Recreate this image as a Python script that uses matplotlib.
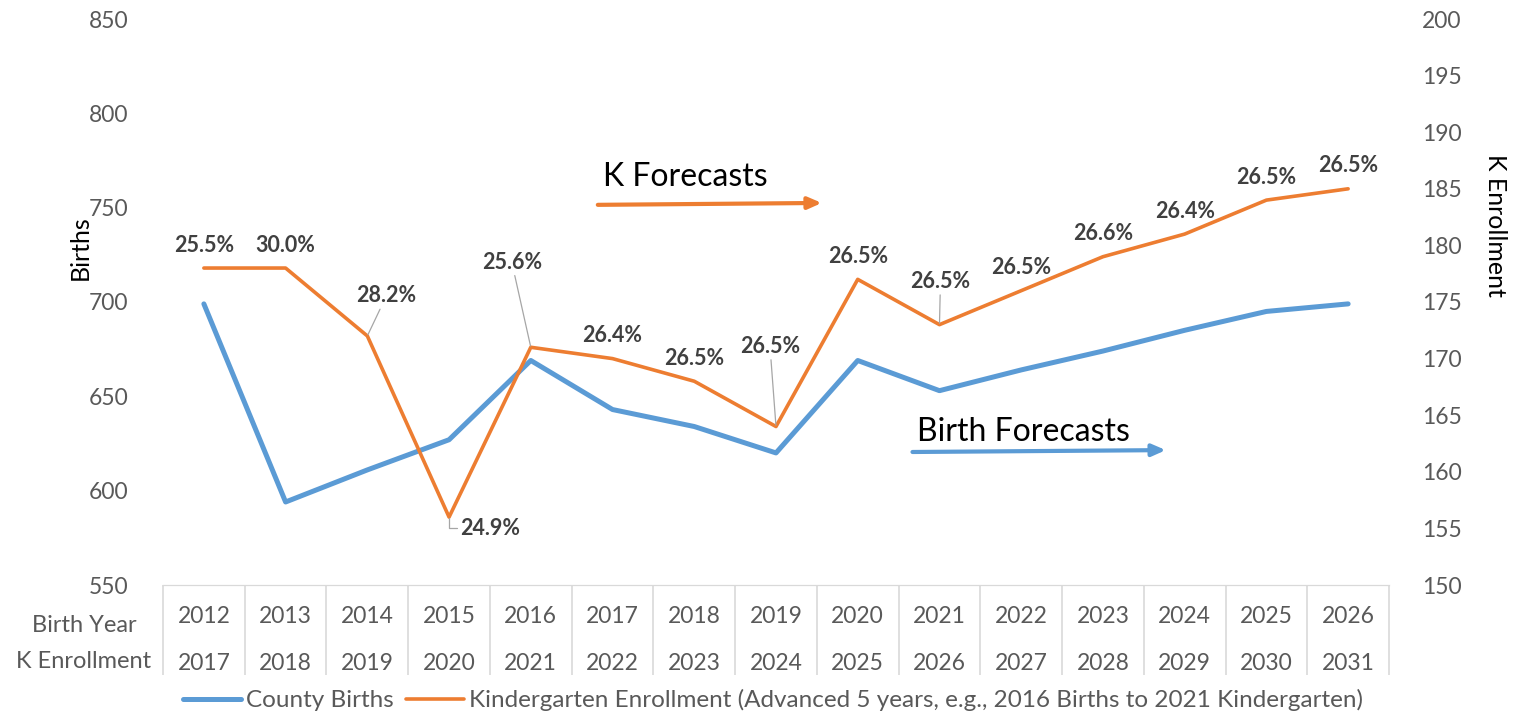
import matplotlib

matplotlib.use("Agg")

import matplotlib.pyplot as plt
from matplotlib.transforms import blended_transform_factory

BIRTH_YEARS = [2012, 2013, 2014, 2015, 2016, 2017, 2018, 2019, 2020,
               2021, 2022, 2023, 2024, 2025, 2026]
K_YEARS = [2017, 2018, 2019, 2020, 2021, 2022, 2023, 2024, 2025,
           2026, 2027, 2028, 2029, 2030, 2031]
BIRTHS = [699, 594, 611, 627, 669, 643, 634, 620, 669, 653, 664, 674, 685, 695, 699]
K_ENROLLMENT = [178, 178, 172, 156, 171, 170, 168, 164, 177, 173, 176, 179, 181, 184, 185]
RATIO_LABELS = ["25.5%", "30.0%", "28.2%", "24.9%", "25.6%", "26.4%", "26.5%", "26.5%",
                "26.5%", "26.5%", "26.5%", "26.6%", "26.4%", "26.5%", "26.5%"]

BLUE = "#5B9BD5"
ORANGE = "#ED7D31"
TICK_GREY = "#595959"
LABEL_GREY = "#404040"
GRID_GREY = "#D9D9D9"

# label offsets in pixels (dx, dy up) from the orange point
LABEL_OFFSETS = {2: (19, 40), 3: (41, -11), 4: (-19, 85), 7: (-6, 80), 9: (1, 43)}
LEADERS = {2, 3, 4, 7, 9}

plt.rcParams["font.family"] = ["Lato", "DejaVu Sans"]

fig = plt.figure(figsize=(15.16, 7.16), dpi=100)
ax = fig.add_axes([163 / 1516, 1 - 585 / 716, (1389 - 163) / 1516, (585 - 19) / 716])
ax2 = ax.twinx()

x = list(range(len(BIRTH_YEARS)))
l1, = ax.plot(x, BIRTHS, color=BLUE, lw=3.6, solid_capstyle="round", solid_joinstyle="round",
              label="County Births")
l2, = ax2.plot(x, K_ENROLLMENT, color=ORANGE, lw=2.6, solid_capstyle="round",
               solid_joinstyle="round",
               label="Kindergarten Enrollment (Advanced 5 years, e.g., 2016 Births to 2021 Kindergarten)")

ax.set_xlim(-0.5, len(x) - 0.5)
ax.set_ylim(550, 850)
ax2.set_ylim(150, 200)
ax.set_yticks(range(550, 851, 50))
ax2.set_yticks(range(150, 201, 5))
ax.set_xticks([])

for a in (ax, ax2):
    for side in ("left", "right", "top"):
        a.spines[side].set_visible(False)
    a.spines["bottom"].set_color(GRID_GREY)
    a.tick_params(axis="y", length=0, labelsize=16.5, labelcolor=TICK_GREY)
ax.tick_params(axis="y", pad=25)
ax2.tick_params(axis="y", pad=24)

ax.set_ylabel("Births", fontsize=18, va="center")
ax.yaxis.set_label_coords(-83 / 1226, (585 - 248) / 566)
ax2.set_ylabel("K Enrollment", fontsize=18, rotation=270, va="center")
ax2.yaxis.set_label_coords(1 + (1495 - 1389) / 1226, (585 - 225) / 566)

# category table under the plot
trans = blended_transform_factory(ax.transData, ax.transAxes)
ax.vlines([i - 0.5 for i in range(len(x) + 1)], -0.159, 0, transform=trans,
          colors=GRID_GREY, lw=1.2, clip_on=False)
for i in x:
    ax.text(i, -0.0565, str(BIRTH_YEARS[i]), transform=trans, ha="center", va="center",
            fontsize=16.5, color=TICK_GREY)
    ax.text(i, -0.138, str(K_YEARS[i]), transform=trans, ha="center", va="center",
            fontsize=16.5, color=TICK_GREY)
fig.text(84 / 1516, 1 - 625 / 716, "Birth Year", ha="center", va="center", fontsize=17,
         color=TICK_GREY)
fig.text(84 / 1516, 1 - 662 / 716, "K Enrollment", ha="center", va="center", fontsize=17,
         color=TICK_GREY)

# ratio labels
for i, (val, lab) in enumerate(zip(K_ENROLLMENT, RATIO_LABELS)):
    dx, dy = LABEL_OFFSETS.get(i, (0, 23))
    kw = {}
    if i in LEADERS:
        style = "angle,angleA=0,angleB=90,rad=0" if i == 3 else "arc3"
        kw["arrowprops"] = dict(arrowstyle="-", color="#A6A6A6", lw=0.9,
                                shrinkA=0, shrinkB=1, connectionstyle=style)
    ax2.annotate(lab, (i, val), xytext=(dx * 0.72, dy * 0.72), textcoords="offset points",
                 ha="center", va="center", fontsize=15.5, fontweight="bold",
                 color=LABEL_GREY, **kw)

# forecast arrows
ax.text(4.88, 766, "K Forecasts", fontsize=23, va="center", ha="left")
ax.annotate("", xy=(7.56, 752.5), xytext=(4.82, 751.5),
            arrowprops=dict(arrowstyle="-|>,head_length=0.8,head_width=0.35",
                            color=ORANGE, lw=3, shrinkA=0, shrinkB=0))
ax.text(8.72, 631, "Birth Forecasts", fontsize=23, va="center", ha="left")
ax.annotate("", xy=(11.77, 621.5), xytext=(8.67, 620.5),
            arrowprops=dict(arrowstyle="-|>,head_length=0.8,head_width=0.35",
                            color=BLUE, lw=3, shrinkA=0, shrinkB=0))

fig.legend(handles=[l1, l2], loc="center", bbox_to_anchor=(0.51, 1 - 700 / 716), ncol=2,
           frameon=False, fontsize=17.5, handlelength=2.4, columnspacing=0.5,
           handletextpad=0.2, labelcolor=TICK_GREY)

fig.savefig("out.png", dpi=100)
